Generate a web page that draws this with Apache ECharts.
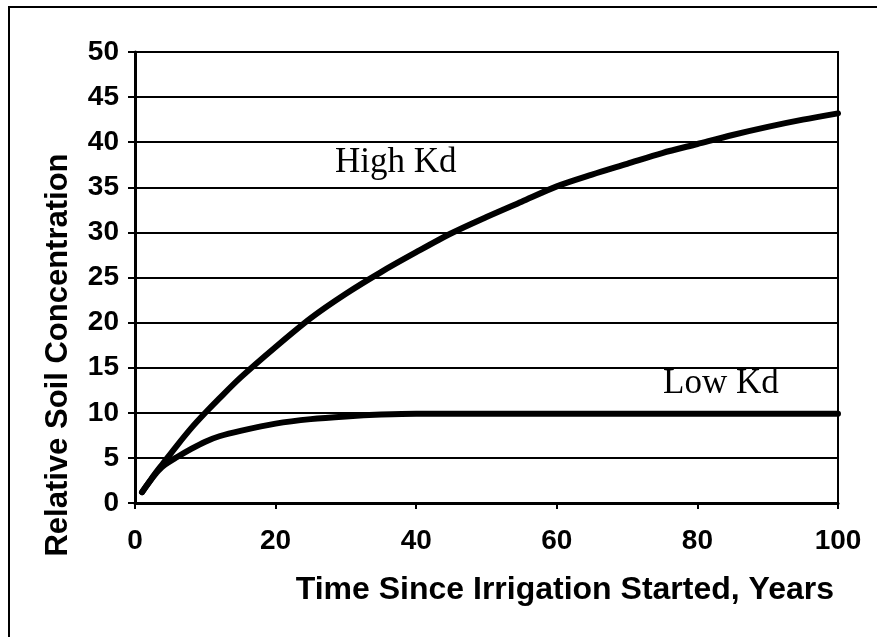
<!DOCTYPE html>
<html>
<head>
<meta charset="utf-8">
<script src="https://cdn.jsdelivr.net/npm/echarts@6/dist/echarts.min.js"></script>
<style>
  html, body { margin: 0; padding: 0; background: #fff; }
  #chart { width: 877px; height: 637px; }
</style>
</head>
<body>
<div id="chart"></div>
<script>
// years since irrigation started
var years = [1, 2, 3, 4, 6, 8, 10, 12, 15, 20, 25, 30, 35, 40, 45, 50, 55, 60, 65, 70, 75, 80, 85, 90, 95, 100];
// relative soil concentration
var highKd = [1.2, 2.3, 3.4, 4.4, 6.4, 8.3, 10.0, 11.6, 13.9, 17.3, 20.5, 23.2, 25.6, 27.8, 29.9, 31.7, 33.4, 35.1, 36.4, 37.6, 38.8, 39.8, 40.8, 41.7, 42.5, 43.2];
var lowKd = [1.2, 2.3, 3.3, 4.1, 5.1, 6.0, 6.8, 7.4, 8.0, 8.8, 9.3, 9.6, 9.8, 9.9, 9.9, 9.9, 9.9, 9.9, 9.9, 9.9, 9.9, 9.9, 9.9, 9.9, 9.9, 9.9];
var yTicks = [0, 5, 10, 15, 20, 25, 30, 35, 40, 45, 50];
var xTicks = [0, 20, 40, 60, 80, 100];

function pairs(xs, ys) {
  return xs.map(function (x, i) { return [x, ys[i]]; });
}

var sans = '"Liberation Sans", Arial, sans-serif';
var serif = '"Liberation Serif", "Times New Roman", serif';

var chart = echarts.init(document.getElementById('chart'));
chart.setOption({
  animation: false,
  backgroundColor: '#fff',
  grid: {
    left: 135, top: 52, right: 39, bottom: 134,
    show: true, borderColor: '#000', borderWidth: 2
  },
  xAxis: {
    type: 'value',
    min: xTicks[0], max: xTicks[xTicks.length - 1], interval: 20,
    axisLine: { show: true, onZero: false, lineStyle: { color: '#000', width: 3 } },
    axisTick: { show: true, length: 6, lineStyle: { color: '#000', width: 2 } },
    axisLabel: { color: '#000', fontFamily: sans, fontWeight: 'bold', fontSize: 28, margin: 24 },
    splitLine: { show: false }
  },
  yAxis: {
    type: 'value',
    min: yTicks[0], max: yTicks[yTicks.length - 1], interval: 5,
    axisLine: { show: true, lineStyle: { color: '#000', width: 3 } },
    axisTick: { show: true, length: 7, lineStyle: { color: '#000', width: 2 } },
    axisLabel: { color: '#000', fontFamily: sans, fontWeight: 'bold', fontSize: 28, margin: 16 },
    splitLine: { show: true, lineStyle: { color: '#000', width: 2 } }
  },
  series: [
    {
      name: 'High Kd', type: 'line', data: pairs(years, highKd),
      smooth: 0.3, showSymbol: false,
      lineStyle: { color: '#000', width: 6, cap: 'round' }
    },
    {
      name: 'Low Kd', type: 'line', data: pairs(years, lowKd),
      smooth: 0.3, showSymbol: false,
      lineStyle: { color: '#000', width: 6, cap: 'round' }
    }
  ],
  graphic: [
    // outer frame (only left and top edges show in the scan)
    { type: 'rect', shape: { x: 9, y: 7, width: 900, height: 700 },
      style: { fill: null, stroke: '#000', lineWidth: 2 }, silent: true },
    { type: 'text', left: 335, top: 145,
      style: { text: 'High Kd', font: '35px ' + serif, fill: '#000' } },
    { type: 'text', left: 663, top: 366,
      style: { text: 'Low Kd', font: '35px ' + serif, fill: '#000' } },
    { type: 'text', x: 834, y: 590,
      style: { text: 'Time Since Irrigation Started, Years', font: 'bold 32px ' + sans,
        fill: '#000', align: 'right', verticalAlign: 'middle' } },
    { type: 'text', x: 58, y: 355, rotation: Math.PI / 2,
      style: { text: 'Relative Soil Concentration', font: 'bold 31px ' + sans,
        fill: '#000', align: 'center', verticalAlign: 'middle' } }
  ]
});
</script>
</body>
</html>
